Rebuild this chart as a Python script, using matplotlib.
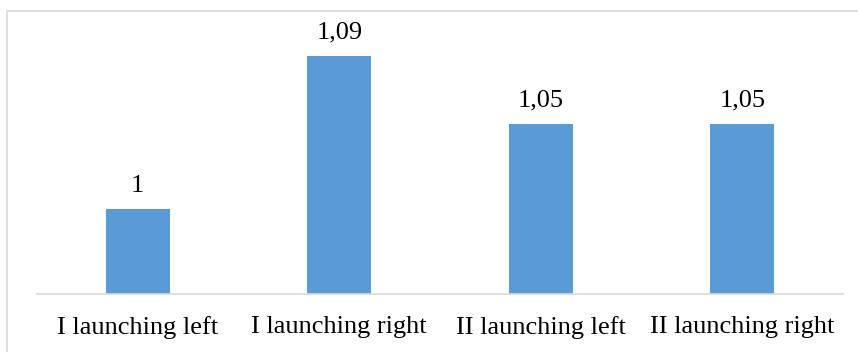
import matplotlib.pyplot as plt
from matplotlib.patches import Rectangle

# Data
categories = ['I launching left', 'I launching right', 'II launching left', 'II launching right']
values = [1.00, 1.09, 1.05, 1.05]
value_labels = ['1', '1,09', '1,05', '1,05']

plt.rcParams['font.family'] = ['Liberation Serif', 'DejaVu Serif']

W, H = 858, 352
fig = plt.figure(figsize=(W / 100, H / 100), dpi=100)

# chart border (light gray, cropped at right/bottom)
fig.patches.append(Rectangle((7 / W, -0.1), 1.1, (H - 11) / H + 0.1,
                             transform=fig.transFigure, fill=False,
                             edgecolor='#D9D9D9', linewidth=1.2))

ax = fig.add_axes([37 / W, 58 / H, (843 - 37) / W, 255 / H])
x = range(len(categories))
ax.bar(x, values, width=0.318, color='#5B9BD5', zorder=2)

for xi, v, lab in zip(x, values, value_labels):
    ax.annotate(lab, xy=(xi, v), xytext=(0, 9), textcoords='offset points',
                ha='center', va='bottom', fontsize=19, color='black')

ax.set_xlim(-0.5, 3.5)
ax.set_ylim(0.95, 1.10)
ax.set_xticks(list(x))
ax.set_xticklabels(categories, fontsize=19)
ax.tick_params(axis='x', length=0, pad=16)
ax.set_yticks([])
for s in ['top', 'right', 'left']:
    ax.spines[s].set_visible(False)
ax.spines['bottom'].set_color('#D9D9D9')
ax.spines['bottom'].set_linewidth(1.2)
ax.set_facecolor('none')

fig.savefig('out.png', dpi=100)
